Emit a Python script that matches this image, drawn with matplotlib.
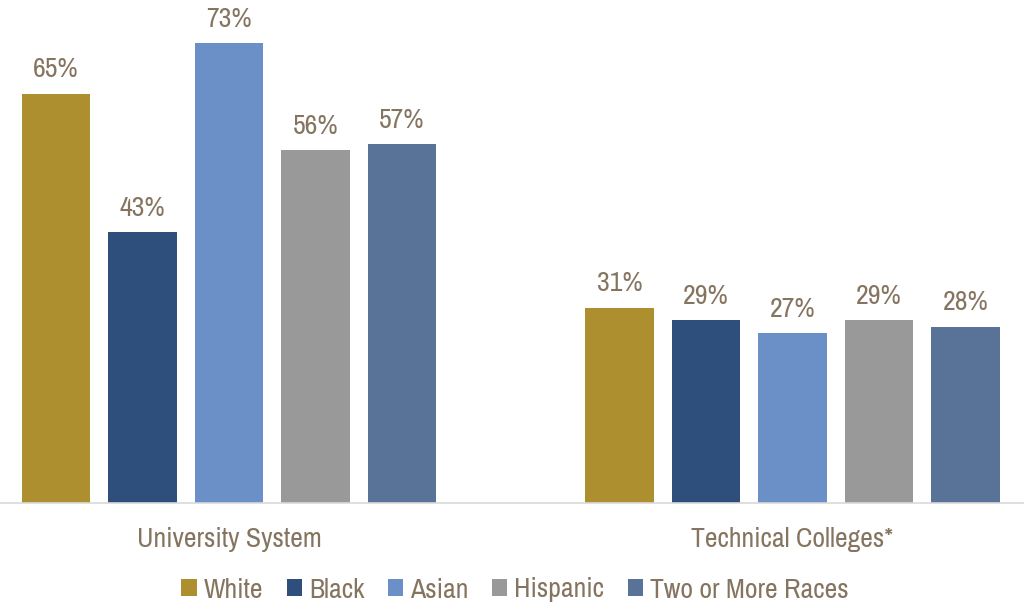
import matplotlib
matplotlib.use('Agg')
import matplotlib.pyplot as plt
from matplotlib import font_manager
import numpy as np

# data
categories = ['University System', 'Technical Colleges*']
groups = ['White', 'Black', 'Asian', 'Hispanic', 'Two or More Races']
white = [65, 31]
black = [43, 29]
asian = [73, 27]
hispanic = [56, 29]
two_or_more = [57, 28]

series = [white, black, asian, hispanic, two_or_more]
colors = ['#AD8F2F', '#2E4F7C', '#6B8FC7', '#999999', '#587397']
text_color = '#857560'

# prefer a narrow face if one is installed
names = sorted({f.name for f in font_manager.fontManager.ttflist})
narrow = [n for n in names if 'Narrow' in n or 'Condensed' in n]
family = narrow[0] if narrow else 'Liberation Sans'
plt.rcParams['font.family'] = [family, 'DejaVu Sans']

fig = plt.figure(figsize=(10.24, 6.16), dpi=100)
ax = fig.add_axes([0, 113 / 616, 1, 503 / 616])

x = np.arange(len(categories))
width = 0.1207
step = 0.1535
for i, (vals, col, name) in enumerate(zip(series, colors, groups)):
    offs = (i - 2) * step
    bars = ax.bar(x + offs, vals, width, color=col, label=name)
    for b, v in zip(bars, vals):
        ax.text(b.get_x() + b.get_width() / 2, v + 1.8, f'{v}%',
                ha='center', va='bottom', fontsize=20, color=text_color)

ax.set_xlim(-229 / 563.5, (1024 - 229) / 563.5)
ax.set_ylim(0, 503 / 6.3)
ax.set_yticks([])
ax.set_xticks(x)
ax.set_xticklabels(categories, fontsize=20, color=text_color)
ax.tick_params(axis='x', length=0, pad=17)
for s in ['top', 'right', 'left']:
    ax.spines[s].set_visible(False)
ax.spines['bottom'].set_color('#D9D9D9')
ax.spines['bottom'].set_linewidth(1.2)

leg = fig.legend(loc='center', ncol=5, frameon=False, fontsize=20,
                 handlelength=0.55, handleheight=0.55, handletextpad=0.25,
                 columnspacing=0.85, bbox_to_anchor=(0.503, 26 / 616))
for t in leg.get_texts():
    t.set_color(text_color)

fig.savefig('out.png', dpi=100)
